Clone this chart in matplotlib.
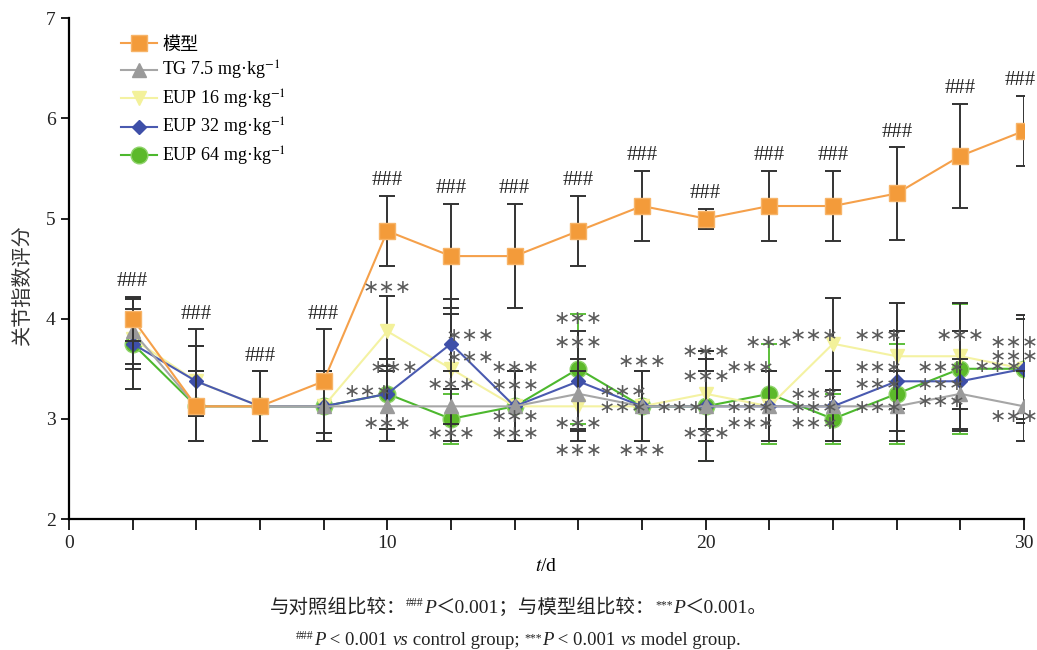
import matplotlib
matplotlib.use("Agg")
import matplotlib.pyplot as plt
from matplotlib.lines import Line2D
import numpy as np

plt.rcParams['font.family'] = ['Liberation Serif', 'Noto Sans CJK SC', 'DejaVu Sans']
plt.rcParams['mathtext.fontset'] = 'stix'

# data
days = [2, 4, 6, 8, 10, 12, 14, 16, 18, 20, 22, 24, 26, 28, 30]
model = [4.0, 3.125, 3.125, 3.375, 4.875, 4.625, 4.625, 4.875, 5.125, 5.0, 5.125, 5.125, 5.25, 5.625, 5.875]
model_err_up = [0.22, 0.77, 0.35, 0.52, 0.35, 0.52, 0.52, 0.35, 0.35, 0.1, 0.35, 0.35, 0.46, 0.52, 0.35]
model_err_lo = [0.22, 0.35, 0.35, 0.52, 0.35, 0.52, 0.52, 0.35, 0.35, 0.1, 0.35, 0.35, 0.46, 0.52, 0.35]
tg = [3.875, 3.125, 3.125, 3.125, 3.125, 3.125, 3.125, 3.25, 3.125, 3.125, 3.125, 3.125, 3.125, 3.25, 3.125]
tg_err = [0.33, 0.35, 0.35, 0.35, 0.35, 0.35, 0.35, 0.35, 0.35, 0.35, 0.35, 0.35, 0.35, 0.35, 0.35]
eup16 = [3.8, 3.375, 3.125, 3.125, 3.875, 3.5, 3.125, 3.125, 3.125, 3.25, 3.125, 3.75, 3.625, 3.625, 3.5]
eup16_err = [0.3, 0.35, 0.35, 0.35, 0.35, 0.55, 0.35, 0.35, 0.35, 0.35, 0.35, 0.46, 0.53, 0.53, 0.54]
eup32 = [3.75, 3.375, 3.125, 3.125, 3.25, 3.75, 3.125, 3.375, 3.125, 3.125, 3.125, 3.125, 3.375, 3.375, 3.5]
eup32_err = [0.45, 0.35, 0.35, 0.35, 0.35, 0.45, 0.35, 0.5, 0.35, 0.55, 0.35, 0.35, 0.5, 0.5, 0.5]
eup64 = [3.75, 3.125, 3.125, 3.125, 3.25, 3.0, 3.125, 3.5, 3.125, 3.125, 3.25, 3.0, 3.25, 3.5, 3.5]
eup64_err = [0.45, 0.35, 0.35, 0.35, 0.35, 0.25, 0.35, 0.55, 0.35, 0.55, 0.5, 0.25, 0.5, 0.65, 0.5]

# significance marks vs model group: (day, x offset, y)
stars = [(10, 0, 4.31), (10, 0.2, 3.51), (10, -0.6, 3.27), (10, 0, 2.95),
         (12, 0.6, 3.83), (12, 0.6, 3.61), (12, 0, 3.34), (12, 0, 2.85),
         (14, 0, 3.51), (14, 0, 3.33), (14, 0, 3.02), (14, 0, 2.85),
         (16, 0, 4.0), (16, 0, 3.76), (16, 0, 2.95), (16, 0, 2.68),
         (18, 0, 3.57), (18, -0.6, 3.27), (18, -0.6, 3.11), (18, 0, 2.68),
         (20, 0, 3.67), (20, 0, 3.42), (20, -0.8, 3.11), (20, 0, 2.85),
         (22, 0, 3.76), (22, -0.6, 3.51), (22, -0.6, 3.11), (22, -0.6, 2.95),
         (24, -0.6, 3.83), (24, -0.6, 3.24), (24, -0.6, 3.11), (24, -0.6, 2.95),
         (26, -0.6, 3.83), (26, -0.6, 3.51), (26, -0.6, 3.34), (26, -0.6, 3.11),
         (28, 0, 3.83), (28, -0.6, 3.51), (28, -0.6, 3.34), (28, -0.6, 3.17), (28, 1.2, 3.52),
         (30, -0.3, 3.76), (30, -0.3, 3.62), (30, -0.3, 3.02)]

fig = plt.figure(figsize=(10.37, 6.5), dpi=100)
ax = fig.add_axes([0.0665, 0.2015, 0.921, 0.7705])

ekw = dict(capsize=6, elinewidth=1.4, capthick=1.4, lw=1.5)
series = [
    ('模型', model, [model_err_lo, model_err_up], '#f5a04a', 's', 11, '#f39b3a', '#f7b468', '#333333', 6),
    ('TG 7.5 mg·kg$^{-1}$', tg, tg_err, '#a6a6a6', '^', 10, '#9a9a9a', '#9a9a9a', '#333333', 5),
    ('EUP 16 mg·kg$^{-1}$', eup16, eup16_err, '#f4f2a2', 'v', 10, '#f3f19a', '#f3f19a', '#333333', 3),
    ('EUP 32 mg·kg$^{-1}$', eup32, eup32_err, '#4a5ab0', 'D', 7, '#3e4fa8', '#3e4fa8', '#333333', 4),
    ('EUP 64 mg·kg$^{-1}$', eup64, eup64_err, '#4db82e', 'o', 12, '#5cb92a', '#8ed36a', '#5cbf3a', 2),
]
handles = []
for name, vals, err, c, mk, ms, mfc, mec, ec, z in series:
    ax.errorbar(days, vals, yerr=err, color=c, ecolor=ec, marker=mk, ms=ms,
                mfc=mfc, mec=mec, zorder=z, **ekw)
    handles.append(Line2D([], [], color=c, lw=1.5, marker=mk, ms=ms, mfc=mfc, mec=mec, label=name))

for d, m, e in zip(days, model, model_err_up):
    ax.text(d - (0.12 if d == 30 else 0), m + e + 0.15, '###', ha='center', va='center',
            fontsize=15, color='#222222', zorder=7)

for d, dx, y in stars:
    ax.text(d + dx, y, '∗∗∗', ha='center', va='center', fontsize=14, color='#5a5a5a',
            family=['DejaVu Sans'], zorder=7)

ax.set_xlim(0, 30)
ax.set_ylim(2, 7)
ax.set_xticks([0, 10, 20, 30])
ax.set_xticks(np.arange(0, 31, 2), minor=True)
ax.set_yticks([2, 3, 4, 5, 6, 7])
ax.spines['top'].set_visible(False)
ax.spines['right'].set_visible(False)
ax.spines['left'].set_linewidth(1.6)
ax.spines['bottom'].set_linewidth(1.6)
ax.tick_params(axis='both', which='both', direction='out', width=1.4, labelsize=14, colors='#222222')
ax.tick_params(axis='x', which='both', length=8)
ax.tick_params(axis='y', length=6)

ax.set_xlabel('$\\it{t}$/d', fontsize=14, labelpad=4)
fig.text(0.022, 0.56, '关节指数评分', rotation=90, ha='center', va='center', fontsize=14.5,
         color='#333333', family=['Noto Sans CJK SC'])

ax.legend(handles=handles, loc='upper left', bbox_to_anchor=(0.043, 0.985), frameon=False, fontsize=13,
          labelspacing=0.3, handlelength=2.0, handletextpad=0.3, borderaxespad=0.2)


def rich_line(pieces, y, xc=0.5):
    # pieces: (text, fontsize, italic, raise in points)
    r = fig.canvas.get_renderer()
    arts = []
    for txt, fs, it, up in pieces:
        t = fig.text(0, y, txt, fontsize=fs, style='italic' if it else 'normal',
                     ha='left', va='baseline', color='#222222')
        arts.append((t, up))
    widths = [t.get_window_extent(r).width / fig.bbox.width for t, _ in arts]
    x = xc - sum(widths) / 2
    for (t, up), w in zip(arts, widths):
        t.set_position((x, y + up / (fig.get_figheight() * 72)))
        x += w


rich_line([('与对照组比较：', 14, False, 0), ('###', 8.5, False, 5), ('P', 14, True, 0),
           ('＜0.001；与模型组比较：', 14, False, 0), ('***', 8.5, False, 3), ('P', 14, True, 0),
           ('＜0.001。', 14, False, 0)], 0.057)
rich_line([('###', 8.5, False, 5), ('P', 13.5, True, 0), (' < 0.001 ', 13.5, False, 0), ('vs', 13.5, True, 0),
           (' control group; ', 13.5, False, 0), ('***', 8.5, False, 3), ('P', 13.5, True, 0),
           (' < 0.001 ', 13.5, False, 0), ('vs', 13.5, True, 0), (' model group.', 13.5, False, 0)], 0.007)

fig.savefig('out.png', dpi=100)
